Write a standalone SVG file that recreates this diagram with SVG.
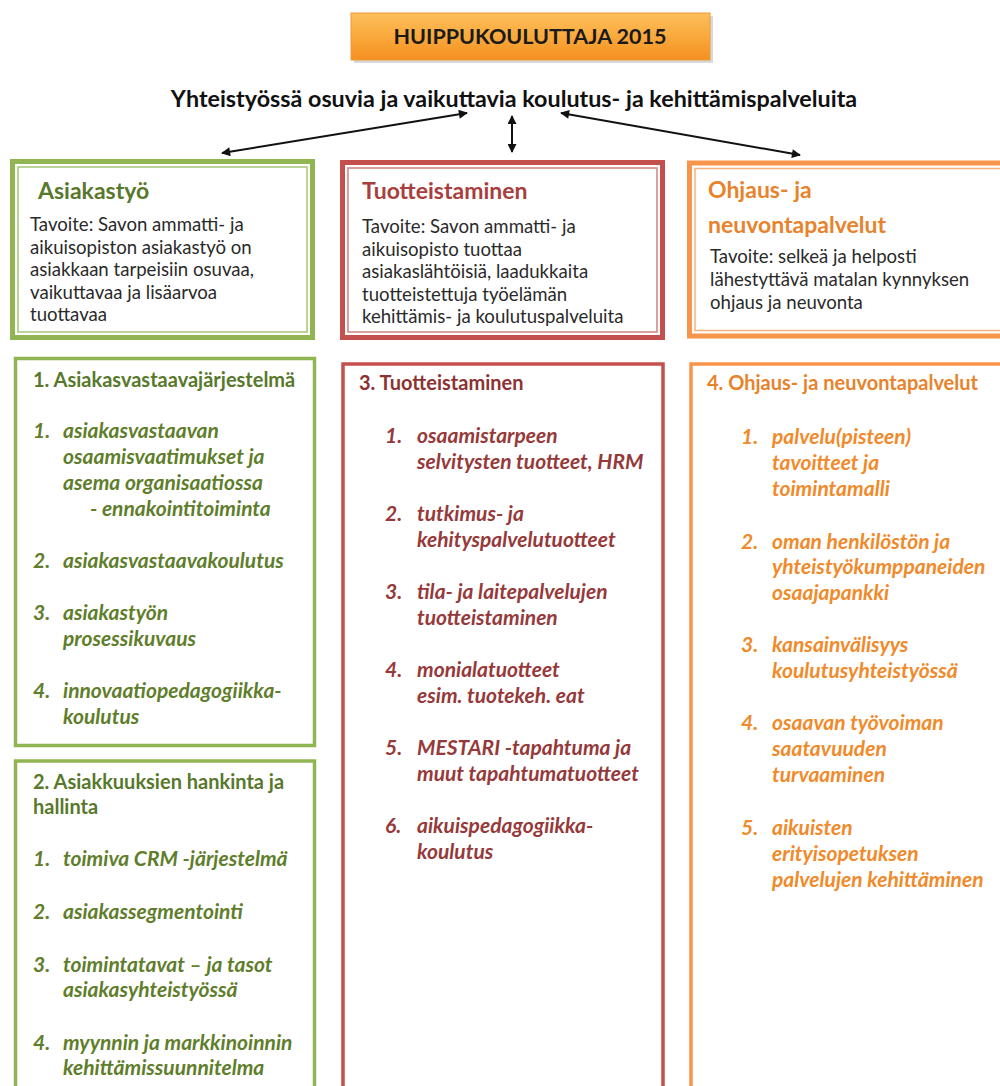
<svg xmlns="http://www.w3.org/2000/svg" width="1000" height="1086" viewBox="0 0 1000 1086">
  <defs>
    <linearGradient id="titleFill" x1="0" y1="0" x2="0" y2="1">
      <stop offset="0" stop-color="#fdbf5c"/>
      <stop offset="0.5" stop-color="#f9a93c"/>
      <stop offset="1" stop-color="#f58f22"/>
    </linearGradient>
    <marker id="head" viewBox="0 0 10 10" refX="9" refY="5" markerWidth="11" markerHeight="9" markerUnits="userSpaceOnUse" orient="auto-start-reverse">
      <path d="M0,0 L10,5 L0,10 z" fill="#111"/>
    </marker>
    <style>
      text { font-family: Lato, "Liberation Sans", "DejaVu Sans", sans-serif; }
      .body { font-size: 18.6px; fill: #2a2a2a; }
      .ttl { font-size: 23px; font-weight: 700; }
      .hd { font-size: 20px; font-weight: 700; }
      .it { font-size: 21px; font-weight: 700; font-style: italic; }
      .g-ttl { fill: #58782b; }
      .g-it { fill: #5f7e2b; }
      .r-ttl { fill: #a83e3d; }
      .r-hd { fill: #8d3232; }
      .r-it { fill: #96393a; }
      .o-ttl { fill: #e8822b; }
      .o-it { fill: #f08a2a; }
      .g-outer { fill: #fff; stroke: #92b553; stroke-width: 5; }
      .g-inner { fill: none; stroke: #a8c476; stroke-width: 1.5; }
      .r-outer { fill: #fff; stroke: #c4504e; stroke-width: 5; }
      .r-inner { fill: none; stroke: #d2807e; stroke-width: 1.5; }
      .o-outer { fill: #fff; stroke: #f7954a; stroke-width: 5; }
      .o-inner { fill: none; stroke: #f9b07a; stroke-width: 1.5; }
      .g-box { fill: #fff; stroke: #92b553; stroke-width: 3.5; }
      .r-box { fill: #fff; stroke: #c4504e; stroke-width: 3.5; }
      .o-box { fill: #fff; stroke: #f7954a; stroke-width: 3.5; }
      .link { stroke: #111; stroke-width: 2; fill: none; marker-start: url(#head); marker-end: url(#head); }
    </style>
  </defs>

  <rect width="1000" height="1086" fill="#fff"/>

  <!-- headline banner -->
  <g id="title">
    <rect x="354" y="16" width="359" height="47" fill="#c9c9c9" opacity="0.7"/>
    <rect x="351" y="13" width="359" height="47" fill="url(#titleFill)" stroke="#ef9a3c" stroke-width="1"/>
    <text x="530" y="44" text-anchor="middle" font-size="21.5" font-weight="700" fill="#1a1a1a">HUIPPUKOULUTTAJA 2015</text>
  </g>

  <g id="subtitle">
    <text x="514" y="107" text-anchor="middle" font-size="23.3" font-weight="700" fill="#111">Yhteistyössä osuvia ja vaikuttavia koulutus- ja kehittämispalveluita</text>
  </g>

  <!-- two-way links from the shared goal to the three areas -->
  <g id="connectors">
    <line class="link" x1="222" y1="153" x2="467" y2="113"/>
    <line class="link" x1="512" y1="116" x2="512" y2="152"/>
    <line class="link" x1="561" y1="113" x2="800" y2="155"/>
  </g>

  <!-- area 1: customer work -->
  <g id="asiakastyo">
    <rect class="g-outer" x="12.5" y="161.5" width="300" height="176"/>
    <rect class="g-inner" x="18" y="167" width="289" height="165"/>
    <text class="ttl g-ttl" x="38" y="199">Asiakastyö</text>
    <text class="body" x="30" y="231">Tavoite: Savon ammatti- ja</text>
    <text class="body" x="30" y="253.5">aikuisopiston asiakastyö on</text>
    <text class="body" x="30" y="276">asiakkaan tarpeisiin osuvaa,</text>
    <text class="body" x="30" y="298.5">vaikuttavaa ja lisäarvoa</text>
    <text class="body" x="30" y="321">tuottavaa</text>
  </g>

  <!-- area 2: productisation -->
  <g id="tuotteistaminen">
    <rect class="r-outer" x="342.5" y="162.5" width="320" height="175"/>
    <rect class="r-inner" x="348" y="168" width="309" height="164"/>
    <text class="ttl r-ttl" x="362" y="199">Tuotteistaminen</text>
    <text class="body" x="362" y="233">Tavoite: Savon ammatti- ja</text>
    <text class="body" x="362" y="255.5">aikuisopisto tuottaa</text>
    <text class="body" x="362" y="278">asiakaslähtöisiä, laadukkaita</text>
    <text class="body" x="362" y="300.5">tuotteistettuja työelämän</text>
    <text class="body" x="362" y="323">kehittämis- ja koulutuspalveluita</text>
  </g>

  <!-- area 3: guidance and counselling -->
  <g id="ohjaus">
    <rect class="o-outer" x="689.5" y="163" width="330" height="173"/>
    <rect class="o-inner" x="695" y="168.5" width="320" height="162"/>
    <text class="ttl o-ttl" x="708" y="198">Ohjaus- ja</text>
    <text class="ttl o-ttl" x="708" y="233">neuvontapalvelut</text>
    <text class="body" x="710" y="263">Tavoite: selkeä ja helposti</text>
    <text class="body" x="710" y="286">lähestyttävä matalan kynnyksen</text>
    <text class="body" x="710" y="309">ohjaus ja neuvonta</text>
  </g>

  <!-- 1. account manager system -->
  <g id="asiakasvastaava">
    <rect class="g-box" x="15.5" y="358.5" width="299" height="387"/>
    <text class="hd g-ttl" x="33" y="387">1. Asiakasvastaavajärjestelmä</text>
    <g class="it g-it">
      <text x="33" y="438">1.</text><text x="63" y="438">asiakasvastaavan</text>
      <text x="63" y="464">osaamisvaatimukset ja</text>
      <text x="63" y="490">asema organisaatiossa</text>
      <text x="90" y="516">- ennakointitoiminta</text>
      <text x="33" y="568">2.</text><text x="63" y="568">asiakasvastaavakoulutus</text>
      <text x="33" y="620">3.</text><text x="63" y="620">asiakastyön</text>
      <text x="63" y="646">prosessikuvaus</text>
      <text x="33" y="698">4.</text><text x="63" y="698">innovaatiopedagogiikka-</text>
      <text x="63" y="724">koulutus</text>
    </g>
  </g>

  <!-- 2. customer acquisition and management -->
  <g id="asiakkuudet">
    <rect class="g-box" x="15.5" y="761" width="299" height="400"/>
    <text class="hd g-ttl" x="33" y="789">2. Asiakkuuksien hankinta ja</text>
    <text class="hd g-ttl" x="33" y="814">hallinta</text>
    <g class="it g-it">
      <text x="33" y="866">1.</text><text x="63" y="866">toimiva CRM -järjestelmä</text>
      <text x="33" y="919">2.</text><text x="63" y="919">asiakassegmentointi</text>
      <text x="33" y="972">3.</text><text x="63" y="972">toimintatavat – ja tasot</text>
      <text x="63" y="997">asiakasyhteistyössä</text>
      <text x="33" y="1050">4.</text><text x="63" y="1050">myynnin ja markkinoinnin</text>
      <text x="63" y="1075">kehittämissuunnitelma</text>
    </g>
  </g>

  <!-- 3. productisation items -->
  <g id="tuotteet">
    <rect class="r-box" x="343" y="364" width="320" height="800"/>
    <text class="hd r-hd" x="359" y="390">3. Tuotteistaminen</text>
    <g class="it r-it">
      <text x="385" y="443">1.</text><text x="417" y="443">osaamistarpeen</text>
      <text x="417" y="469">selvitysten tuotteet, HRM</text>
      <text x="385" y="521">2.</text><text x="417" y="521">tutkimus- ja</text>
      <text x="417" y="547">kehityspalvelutuotteet</text>
      <text x="385" y="599">3.</text><text x="417" y="599">tila- ja laitepalvelujen</text>
      <text x="417" y="625">tuotteistaminen</text>
      <text x="385" y="677">4.</text><text x="417" y="677">monialatuotteet</text>
      <text x="417" y="703">esim. tuotekeh. eat</text>
      <text x="385" y="755">5.</text><text x="417" y="755">MESTARI -tapahtuma ja</text>
      <text x="417" y="781">muut tapahtumatuotteet</text>
      <text x="385" y="833">6.</text><text x="417" y="833">aikuispedagogiikka-</text>
      <text x="417" y="859">koulutus</text>
    </g>
  </g>

  <!-- 4. guidance and counselling items -->
  <g id="neuvonta">
    <rect class="o-box" x="691" y="364" width="330" height="800"/>
    <text class="hd o-ttl" x="707" y="390">4. Ohjaus- ja neuvontapalvelut</text>
    <g class="it o-it">
      <text x="741" y="444">1.</text><text x="772" y="444">palvelu(pisteen)</text>
      <text x="772" y="470">tavoitteet ja</text>
      <text x="772" y="496">toimintamalli</text>
      <text x="741" y="549">2.</text><text x="772" y="549">oman henkilöstön ja</text>
      <text x="772" y="574">yhteistyökumppaneiden</text>
      <text x="772" y="600">osaajapankki</text>
      <text x="741" y="652">3.</text><text x="772" y="652">kansainvälisyys</text>
      <text x="772" y="678">koulutusyhteistyössä</text>
      <text x="741" y="730">4.</text><text x="772" y="730">osaavan työvoiman</text>
      <text x="772" y="756">saatavuuden</text>
      <text x="772" y="782">turvaaminen</text>
      <text x="741" y="835">5.</text><text x="772" y="835">aikuisten</text>
      <text x="772" y="861">erityisopetuksen</text>
      <text x="772" y="887">palvelujen kehittäminen</text>
    </g>
  </g>
</svg>
